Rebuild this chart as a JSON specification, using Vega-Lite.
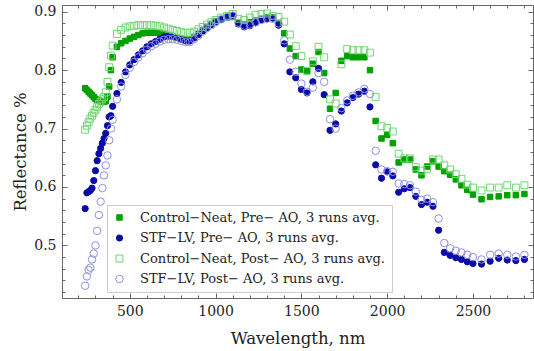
{
"$schema": "https://vega.github.io/schema/vega-lite/v6.json",
"width": 471, "height": 293,
"autosize": {"type": "none"},
"padding": {"left": 62, "top": 5, "right": 1, "bottom": 53},
"background": "white",
"config": {"view": {"stroke": null}, "font": "DejaVu Serif",
  "legend": {"orient": "none", "legendX": 45, "legendY": 200, "labelFont": "DejaVu Serif", "labelFontSize": 13, "labelColor": "#222", "strokeColor": "#cccccc", "fillColor": "white", "padding": 6, "rowPadding": 6.5, "symbolStrokeWidth": 1, "labelLimit": 400, "labelOffset": 14}},
"datasets": {"d": [
{"s":"GF","w":240,"r":0.769},{"s":"GF","w":250,"r":0.766},{"s":"GF","w":260,"r":0.763},{"s":"GF","w":270,"r":0.760},{"s":"GF","w":280,"r":0.757},{"s":"GF","w":290,"r":0.754},{"s":"GF","w":300,"r":0.751},{"s":"GF","w":310,"r":0.749},{"s":"GF","w":320,"r":0.748},{"s":"GF","w":330,"r":0.747},{"s":"GF","w":340,"r":0.746},{"s":"GF","w":350,"r":0.746},{"s":"GF","w":360,"r":0.747},{"s":"GF","w":370,"r":0.755},{"s":"GF","w":380,"r":0.772},{"s":"GF","w":390,"r":0.800},{"s":"GF","w":400,"r":0.822},{"s":"GF","w":425,"r":0.840},{"s":"GF","w":450,"r":0.846},{"s":"GF","w":475,"r":0.850},{"s":"GF","w":500,"r":0.854},{"s":"GF","w":525,"r":0.857},{"s":"GF","w":550,"r":0.860},{"s":"GF","w":575,"r":0.863},{"s":"GF","w":600,"r":0.864},{"s":"GF","w":625,"r":0.864},{"s":"GF","w":650,"r":0.864},{"s":"GF","w":675,"r":0.863},{"s":"GF","w":700,"r":0.862},{"s":"GF","w":725,"r":0.860},{"s":"GF","w":750,"r":0.858},{"s":"GF","w":775,"r":0.856},{"s":"GF","w":800,"r":0.854},{"s":"GF","w":825,"r":0.853},{"s":"GF","w":850,"r":0.853},{"s":"GF","w":875,"r":0.857},{"s":"GF","w":900,"r":0.862},{"s":"GF","w":925,"r":0.868},{"s":"GF","w":950,"r":0.874},{"s":"GF","w":975,"r":0.879},{"s":"GF","w":1000,"r":0.884},{"s":"GF","w":1033,"r":0.887},{"s":"GF","w":1067,"r":0.890},{"s":"GF","w":1100,"r":0.891},{"s":"GF","w":1133,"r":0.880},{"s":"GF","w":1167,"r":0.878},{"s":"GF","w":1200,"r":0.882},{"s":"GF","w":1233,"r":0.885},{"s":"GF","w":1267,"r":0.888},{"s":"GF","w":1300,"r":0.890},{"s":"GF","w":1333,"r":0.890},{"s":"GF","w":1367,"r":0.880},{"s":"GF","w":1400,"r":0.863},{"s":"GF","w":1433,"r":0.837},{"s":"GF","w":1467,"r":0.824},{"s":"GF","w":1500,"r":0.801},{"s":"GF","w":1533,"r":0.798},{"s":"GF","w":1567,"r":0.811},{"s":"GF","w":1600,"r":0.831},{"s":"GF","w":1633,"r":0.795},{"s":"GF","w":1667,"r":0.734},{"s":"GF","w":1700,"r":0.761},{"s":"GF","w":1733,"r":0.816},{"s":"GF","w":1767,"r":0.824},{"s":"GF","w":1800,"r":0.822},{"s":"GF","w":1833,"r":0.822},{"s":"GF","w":1867,"r":0.822},{"s":"GF","w":1900,"r":0.800},{"s":"GF","w":1933,"r":0.713},{"s":"GF","w":1967,"r":0.683},{"s":"GF","w":2000,"r":0.689},{"s":"GF","w":2033,"r":0.675},{"s":"GF","w":2067,"r":0.642},{"s":"GF","w":2100,"r":0.647},{"s":"GF","w":2133,"r":0.647},{"s":"GF","w":2167,"r":0.630},{"s":"GF","w":2200,"r":0.620},{"s":"GF","w":2233,"r":0.635},{"s":"GF","w":2267,"r":0.644},{"s":"GF","w":2300,"r":0.635},{"s":"GF","w":2333,"r":0.627},{"s":"GF","w":2367,"r":0.621},{"s":"GF","w":2400,"r":0.613},{"s":"GF","w":2433,"r":0.603},{"s":"GF","w":2467,"r":0.595},{"s":"GF","w":2500,"r":0.587},{"s":"GF","w":2550,"r":0.579},{"s":"GF","w":2600,"r":0.583},{"s":"GF","w":2650,"r":0.584},{"s":"GF","w":2700,"r":0.586},{"s":"GF","w":2750,"r":0.586},{"s":"GF","w":2800,"r":0.588},
{"s":"BF","w":240,"r":0.563},{"s":"BF","w":250,"r":0.590},{"s":"BF","w":260,"r":0.592},{"s":"BF","w":270,"r":0.594},{"s":"BF","w":280,"r":0.598},{"s":"BF","w":290,"r":0.611},{"s":"BF","w":300,"r":0.628},{"s":"BF","w":310,"r":0.645},{"s":"BF","w":320,"r":0.657},{"s":"BF","w":330,"r":0.666},{"s":"BF","w":340,"r":0.675},{"s":"BF","w":350,"r":0.683},{"s":"BF","w":360,"r":0.692},{"s":"BF","w":370,"r":0.705},{"s":"BF","w":380,"r":0.720},{"s":"BF","w":390,"r":0.722},{"s":"BF","w":400,"r":0.738},{"s":"BF","w":425,"r":0.760},{"s":"BF","w":450,"r":0.779},{"s":"BF","w":475,"r":0.797},{"s":"BF","w":500,"r":0.809},{"s":"BF","w":525,"r":0.818},{"s":"BF","w":550,"r":0.826},{"s":"BF","w":575,"r":0.833},{"s":"BF","w":600,"r":0.840},{"s":"BF","w":625,"r":0.845},{"s":"BF","w":650,"r":0.849},{"s":"BF","w":675,"r":0.853},{"s":"BF","w":700,"r":0.857},{"s":"BF","w":725,"r":0.858},{"s":"BF","w":750,"r":0.858},{"s":"BF","w":775,"r":0.856},{"s":"BF","w":800,"r":0.853},{"s":"BF","w":825,"r":0.850},{"s":"BF","w":850,"r":0.850},{"s":"BF","w":875,"r":0.855},{"s":"BF","w":900,"r":0.861},{"s":"BF","w":925,"r":0.867},{"s":"BF","w":950,"r":0.873},{"s":"BF","w":975,"r":0.878},{"s":"BF","w":1000,"r":0.883},{"s":"BF","w":1033,"r":0.887},{"s":"BF","w":1067,"r":0.891},{"s":"BF","w":1100,"r":0.894},{"s":"BF","w":1133,"r":0.879},{"s":"BF","w":1167,"r":0.874},{"s":"BF","w":1200,"r":0.876},{"s":"BF","w":1233,"r":0.881},{"s":"BF","w":1267,"r":0.886},{"s":"BF","w":1300,"r":0.888},{"s":"BF","w":1333,"r":0.889},{"s":"BF","w":1367,"r":0.877},{"s":"BF","w":1400,"r":0.845},{"s":"BF","w":1433,"r":0.797},{"s":"BF","w":1467,"r":0.787},{"s":"BF","w":1500,"r":0.767},{"s":"BF","w":1533,"r":0.761},{"s":"BF","w":1567,"r":0.780},{"s":"BF","w":1600,"r":0.803},{"s":"BF","w":1633,"r":0.758},{"s":"BF","w":1667,"r":0.697},{"s":"BF","w":1700,"r":0.708},{"s":"BF","w":1733,"r":0.730},{"s":"BF","w":1767,"r":0.744},{"s":"BF","w":1800,"r":0.753},{"s":"BF","w":1833,"r":0.759},{"s":"BF","w":1867,"r":0.764},{"s":"BF","w":1900,"r":0.737},{"s":"BF","w":1933,"r":0.638},{"s":"BF","w":1967,"r":0.615},{"s":"BF","w":2000,"r":0.626},{"s":"BF","w":2033,"r":0.619},{"s":"BF","w":2067,"r":0.591},{"s":"BF","w":2100,"r":0.597},{"s":"BF","w":2133,"r":0.599},{"s":"BF","w":2167,"r":0.584},{"s":"BF","w":2200,"r":0.570},{"s":"BF","w":2233,"r":0.574},{"s":"BF","w":2267,"r":0.567},{"s":"BF","w":2300,"r":0.526},{"s":"BF","w":2333,"r":0.488},{"s":"BF","w":2367,"r":0.483},{"s":"BF","w":2400,"r":0.479},{"s":"BF","w":2433,"r":0.476},{"s":"BF","w":2467,"r":0.472},{"s":"BF","w":2500,"r":0.469},{"s":"BF","w":2550,"r":0.468},{"s":"BF","w":2600,"r":0.473},{"s":"BF","w":2650,"r":0.478},{"s":"BF","w":2700,"r":0.475},{"s":"BF","w":2750,"r":0.474},{"s":"BF","w":2800,"r":0.476},
{"s":"GO","w":240,"r":0.698},{"s":"GO","w":250,"r":0.705},{"s":"GO","w":260,"r":0.711},{"s":"GO","w":270,"r":0.717},{"s":"GO","w":280,"r":0.722},{"s":"GO","w":290,"r":0.727},{"s":"GO","w":300,"r":0.732},{"s":"GO","w":310,"r":0.737},{"s":"GO","w":320,"r":0.742},{"s":"GO","w":330,"r":0.746},{"s":"GO","w":340,"r":0.750},{"s":"GO","w":350,"r":0.754},{"s":"GO","w":360,"r":0.762},{"s":"GO","w":370,"r":0.780},{"s":"GO","w":380,"r":0.805},{"s":"GO","w":390,"r":0.825},{"s":"GO","w":400,"r":0.842},{"s":"GO","w":425,"r":0.862},{"s":"GO","w":450,"r":0.869},{"s":"GO","w":475,"r":0.873},{"s":"GO","w":500,"r":0.875},{"s":"GO","w":525,"r":0.876},{"s":"GO","w":550,"r":0.877},{"s":"GO","w":575,"r":0.877},{"s":"GO","w":600,"r":0.877},{"s":"GO","w":625,"r":0.877},{"s":"GO","w":650,"r":0.876},{"s":"GO","w":675,"r":0.875},{"s":"GO","w":700,"r":0.873},{"s":"GO","w":725,"r":0.871},{"s":"GO","w":750,"r":0.869},{"s":"GO","w":775,"r":0.867},{"s":"GO","w":800,"r":0.865},{"s":"GO","w":825,"r":0.864},{"s":"GO","w":850,"r":0.864},{"s":"GO","w":875,"r":0.866},{"s":"GO","w":900,"r":0.870},{"s":"GO","w":925,"r":0.874},{"s":"GO","w":950,"r":0.878},{"s":"GO","w":975,"r":0.882},{"s":"GO","w":1000,"r":0.886},{"s":"GO","w":1033,"r":0.890},{"s":"GO","w":1067,"r":0.893},{"s":"GO","w":1100,"r":0.896},{"s":"GO","w":1133,"r":0.888},{"s":"GO","w":1167,"r":0.886},{"s":"GO","w":1200,"r":0.890},{"s":"GO","w":1233,"r":0.895},{"s":"GO","w":1267,"r":0.896},{"s":"GO","w":1300,"r":0.897},{"s":"GO","w":1333,"r":0.893},{"s":"GO","w":1367,"r":0.891},{"s":"GO","w":1400,"r":0.883},{"s":"GO","w":1433,"r":0.861},{"s":"GO","w":1467,"r":0.841},{"s":"GO","w":1500,"r":0.824},{"s":"GO","w":1533,"r":0.799},{"s":"GO","w":1567,"r":0.815},{"s":"GO","w":1600,"r":0.840},{"s":"GO","w":1633,"r":0.822},{"s":"GO","w":1667,"r":0.750},{"s":"GO","w":1700,"r":0.743},{"s":"GO","w":1733,"r":0.810},{"s":"GO","w":1767,"r":0.836},{"s":"GO","w":1800,"r":0.834},{"s":"GO","w":1833,"r":0.834},{"s":"GO","w":1867,"r":0.834},{"s":"GO","w":1900,"r":0.830},{"s":"GO","w":1933,"r":0.754},{"s":"GO","w":1967,"r":0.704},{"s":"GO","w":2000,"r":0.701},{"s":"GO","w":2033,"r":0.695},{"s":"GO","w":2067,"r":0.657},{"s":"GO","w":2100,"r":0.649},{"s":"GO","w":2133,"r":0.649},{"s":"GO","w":2167,"r":0.634},{"s":"GO","w":2200,"r":0.628},{"s":"GO","w":2233,"r":0.631},{"s":"GO","w":2267,"r":0.647},{"s":"GO","w":2300,"r":0.647},{"s":"GO","w":2333,"r":0.637},{"s":"GO","w":2367,"r":0.630},{"s":"GO","w":2400,"r":0.622},{"s":"GO","w":2433,"r":0.614},{"s":"GO","w":2467,"r":0.604},{"s":"GO","w":2500,"r":0.599},{"s":"GO","w":2550,"r":0.594},{"s":"GO","w":2600,"r":0.599},{"s":"GO","w":2650,"r":0.599},{"s":"GO","w":2700,"r":0.603},{"s":"GO","w":2750,"r":0.599},{"s":"GO","w":2800,"r":0.603},
{"s":"BO","w":240,"r":0.431},{"s":"BO","w":250,"r":0.447},{"s":"BO","w":260,"r":0.458},{"s":"BO","w":270,"r":0.462},{"s":"BO","w":280,"r":0.476},{"s":"BO","w":290,"r":0.486},{"s":"BO","w":300,"r":0.500},{"s":"BO","w":310,"r":0.525},{"s":"BO","w":320,"r":0.552},{"s":"BO","w":330,"r":0.575},{"s":"BO","w":340,"r":0.598},{"s":"BO","w":350,"r":0.620},{"s":"BO","w":360,"r":0.637},{"s":"BO","w":370,"r":0.654},{"s":"BO","w":380,"r":0.680},{"s":"BO","w":390,"r":0.700},{"s":"BO","w":400,"r":0.715},{"s":"BO","w":425,"r":0.750},{"s":"BO","w":450,"r":0.772},{"s":"BO","w":475,"r":0.792},{"s":"BO","w":500,"r":0.804},{"s":"BO","w":525,"r":0.814},{"s":"BO","w":550,"r":0.822},{"s":"BO","w":575,"r":0.829},{"s":"BO","w":600,"r":0.835},{"s":"BO","w":625,"r":0.841},{"s":"BO","w":650,"r":0.845},{"s":"BO","w":675,"r":0.849},{"s":"BO","w":700,"r":0.852},{"s":"BO","w":725,"r":0.853},{"s":"BO","w":750,"r":0.853},{"s":"BO","w":775,"r":0.852},{"s":"BO","w":800,"r":0.850},{"s":"BO","w":825,"r":0.848},{"s":"BO","w":850,"r":0.848},{"s":"BO","w":875,"r":0.853},{"s":"BO","w":900,"r":0.859},{"s":"BO","w":925,"r":0.866},{"s":"BO","w":950,"r":0.872},{"s":"BO","w":975,"r":0.877},{"s":"BO","w":1000,"r":0.882},{"s":"BO","w":1033,"r":0.887},{"s":"BO","w":1067,"r":0.891},{"s":"BO","w":1100,"r":0.893},{"s":"BO","w":1133,"r":0.881},{"s":"BO","w":1167,"r":0.876},{"s":"BO","w":1200,"r":0.878},{"s":"BO","w":1233,"r":0.882},{"s":"BO","w":1267,"r":0.886},{"s":"BO","w":1300,"r":0.888},{"s":"BO","w":1333,"r":0.888},{"s":"BO","w":1367,"r":0.880},{"s":"BO","w":1400,"r":0.851},{"s":"BO","w":1433,"r":0.818},{"s":"BO","w":1467,"r":0.797},{"s":"BO","w":1500,"r":0.777},{"s":"BO","w":1533,"r":0.763},{"s":"BO","w":1567,"r":0.770},{"s":"BO","w":1600,"r":0.795},{"s":"BO","w":1633,"r":0.780},{"s":"BO","w":1667,"r":0.716},{"s":"BO","w":1700,"r":0.700},{"s":"BO","w":1733,"r":0.735},{"s":"BO","w":1767,"r":0.748},{"s":"BO","w":1800,"r":0.756},{"s":"BO","w":1833,"r":0.762},{"s":"BO","w":1867,"r":0.768},{"s":"BO","w":1900,"r":0.759},{"s":"BO","w":1933,"r":0.662},{"s":"BO","w":1967,"r":0.630},{"s":"BO","w":2000,"r":0.627},{"s":"BO","w":2033,"r":0.626},{"s":"BO","w":2067,"r":0.606},{"s":"BO","w":2100,"r":0.605},{"s":"BO","w":2133,"r":0.603},{"s":"BO","w":2167,"r":0.592},{"s":"BO","w":2200,"r":0.578},{"s":"BO","w":2233,"r":0.580},{"s":"BO","w":2267,"r":0.574},{"s":"BO","w":2300,"r":0.546},{"s":"BO","w":2333,"r":0.504},{"s":"BO","w":2367,"r":0.495},{"s":"BO","w":2400,"r":0.491},{"s":"BO","w":2433,"r":0.488},{"s":"BO","w":2467,"r":0.484},{"s":"BO","w":2500,"r":0.480},{"s":"BO","w":2550,"r":0.476},{"s":"BO","w":2600,"r":0.484},{"s":"BO","w":2650,"r":0.486},{"s":"BO","w":2700,"r":0.484},{"s":"BO","w":2750,"r":0.481},{"s":"BO","w":2800,"r":0.484}
]},
"data": {"name": "d"},
"layer": [
 {"mark": {"type": "point", "strokeWidth": 1, "opacity": 1},
  "encoding": {
   "x": {"field": "w", "type": "quantitative", "scale": {"domain": [105, 2850], "nice": false, "zero": false},
     "axis": {"orient": "bottom", "values": [500, 1000, 1500, 2000, 2500], "format": "d", "ticks": false, "grid": false, "labelFont": "DejaVu Serif", "labelFontSize": 14, "labelColor": "#222", "labelPadding": 6, "domainColor": "#666", "title": "Wavelength, nm", "titleFont": "DejaVu Serif", "titleFontSize": 16.5, "titleFontWeight": "normal", "titleColor": "#222", "titleY": 40, "titleBaseline": "middle"}},
   "y": {"field": "r", "type": "quantitative", "scale": {"domain": [0.41, 0.9115], "nice": false, "zero": false},
     "axis": {"orient": "left", "values": [0.5, 0.6, 0.7, 0.8, 0.9], "format": ".1f", "ticks": false, "grid": false, "labelFont": "DejaVu Serif", "labelFontSize": 14, "labelColor": "#222", "labelPadding": 6, "domainColor": "#666", "title": "Reflectance %", "titleFont": "DejaVu Serif", "titleFontSize": 16.5, "titleFontWeight": "normal", "titleColor": "#222", "titleX": -42, "titleBaseline": "middle"}},
   "shape": {"field": "s", "type": "nominal", "scale": {"domain": ["GF", "BF", "GO", "BO"], "range": ["square", "circle", "square", "circle"]},
     "legend": {"title": null, "labelExpr": "datum.label == 'GF' ? 'Control−Neat, Pre− AO, 3 runs avg.' : datum.label == 'BF' ? 'STF−LV, Pre− AO, 3 runs avg.' : datum.label == 'GO' ? 'Control−Neat, Post− AO, 3 runs avg.' : 'STF−LV, Post− AO, 3 runs avg.'"}},
   "fill": {"field": "s", "type": "nominal", "scale": {"domain": ["GF", "BF", "GO", "BO"], "range": ["#00a000", "#0a0aa5", "transparent", "transparent"]},
     "legend": {"title": null, "labelExpr": "datum.label == 'GF' ? 'Control−Neat, Pre− AO, 3 runs avg.' : datum.label == 'BF' ? 'STF−LV, Pre− AO, 3 runs avg.' : datum.label == 'GO' ? 'Control−Neat, Post− AO, 3 runs avg.' : 'STF−LV, Post− AO, 3 runs avg.'"}},
   "stroke": {"field": "s", "type": "nominal", "scale": {"domain": ["GF", "BF", "GO", "BO"], "range": ["#00a000", "#0a0aa5", "#6fd66f", "#8f8fe6"]},
     "legend": {"title": null, "labelExpr": "datum.label == 'GF' ? 'Control−Neat, Pre− AO, 3 runs avg.' : datum.label == 'BF' ? 'STF−LV, Pre− AO, 3 runs avg.' : datum.label == 'GO' ? 'Control−Neat, Post− AO, 3 runs avg.' : 'STF−LV, Post− AO, 3 runs avg.'"}},
   "size": {"field": "s", "type": "nominal", "scale": {"domain": ["GF", "BF", "GO", "BO"], "range": [30, 56, 49, 81]},
     "legend": {"title": null, "labelExpr": "datum.label == 'GF' ? 'Control−Neat, Pre− AO, 3 runs avg.' : datum.label == 'BF' ? 'STF−LV, Pre− AO, 3 runs avg.' : datum.label == 'GO' ? 'Control−Neat, Post− AO, 3 runs avg.' : 'STF−LV, Post− AO, 3 runs avg.'"}}
  }},
 {"mark": {"type": "point", "opacity": 0},
  "encoding": {
   "x": {"field": "w", "type": "quantitative", "axis": {"orient": "top", "offset": -293, "values": [200,300,400,500,600,700,800,900,1000,1100,1200,1300,1400,1500,1600,1700,1800,1900,2000,2100,2200,2300,2400,2500,2600,2700,2800], "labels": false, "domain": false, "grid": false, "title": null, "tickColor": "#666", "tickSize": {"condition": {"test": "datum.value % 500 === 0", "value": 5}, "value": 3}}},
   "y": {"field": "r", "type": "quantitative", "axis": {"orient": "right", "offset": -471, "values": [0.42,0.44,0.46,0.48,0.5,0.52,0.54,0.56,0.58,0.6,0.62,0.64,0.66,0.68,0.7,0.72,0.74,0.76,0.78,0.8,0.82,0.84,0.86,0.88,0.9], "labels": false, "domain": false, "grid": false, "title": null, "tickColor": "#666", "tickSize": {"condition": {"test": "abs(datum.value*10 - round(datum.value*10)) < 0.001", "value": 5}, "value": 3}}}
  }},
 {"mark": {"type": "point", "opacity": 0},
  "encoding": {
   "x": {"field": "w", "type": "quantitative", "axis": {"orient": "bottom", "offset": -293, "values": [200,300,400,500,600,700,800,900,1000,1100,1200,1300,1400,1500,1600,1700,1800,1900,2000,2100,2200,2300,2400,2500,2600,2700,2800], "labels": false, "domain": true, "domainColor": "#666", "grid": false, "title": null, "tickColor": "#666", "tickSize": {"condition": {"test": "datum.value % 500 === 0", "value": 5}, "value": 3}}},
   "y": {"field": "r", "type": "quantitative", "axis": {"orient": "left", "offset": -471, "values": [0.42,0.44,0.46,0.48,0.5,0.52,0.54,0.56,0.58,0.6,0.62,0.64,0.66,0.68,0.7,0.72,0.74,0.76,0.78,0.8,0.82,0.84,0.86,0.88,0.9], "labels": false, "domain": true, "domainColor": "#666", "grid": false, "title": null, "tickColor": "#666", "tickSize": {"condition": {"test": "abs(datum.value*10 - round(datum.value*10)) < 0.001", "value": 5}, "value": 3}}}
  }}
],
"resolve": {"axis": {"x": "independent", "y": "independent"}}
}
